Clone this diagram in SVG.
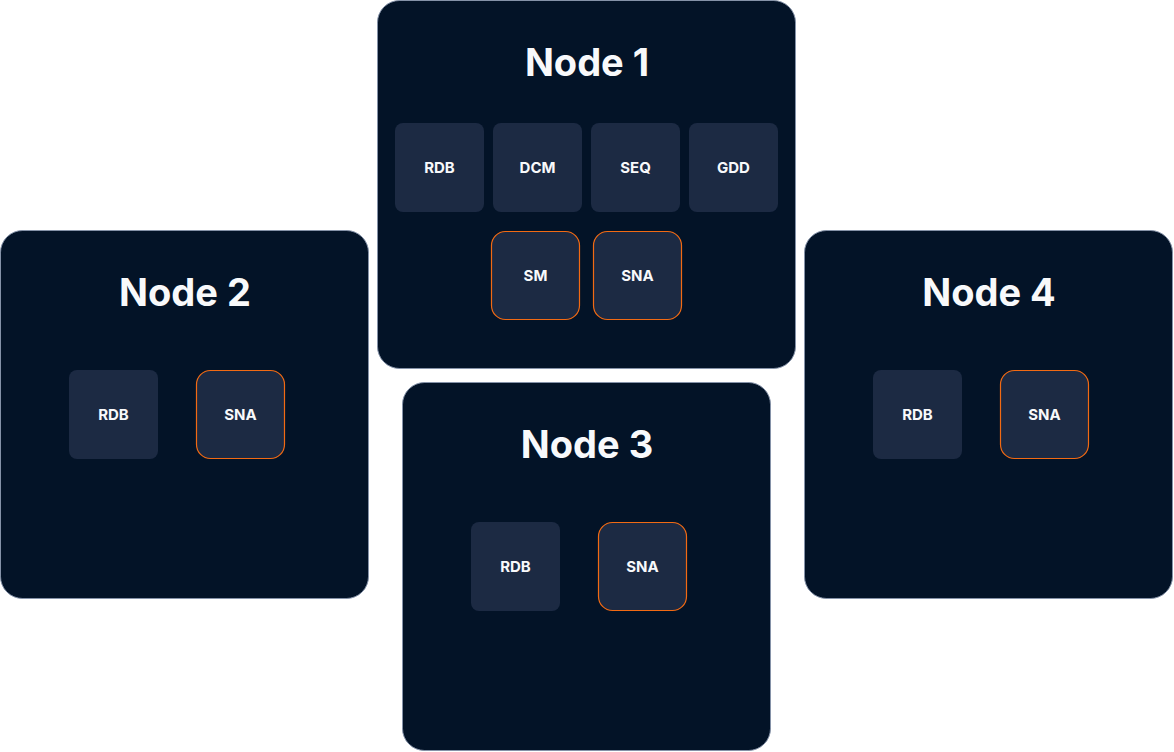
<svg xmlns="http://www.w3.org/2000/svg" width="1174" height="752" viewBox="0 0 1174 752">
  <style>
    .panel { fill: #031327; stroke: #8592a8; stroke-width: 1; }
    .box { fill: #1c2a43; }
    .svc { fill: #1c2a43; stroke: #f26a13; stroke-width: 1.2; }
    .title { font-family: Inter, "Liberation Sans", sans-serif; font-weight: 700; font-size: 38px; fill: #f8f9fb; text-anchor: middle; }
    .lbl { font-family: Inter, "Liberation Sans", sans-serif; font-weight: 700; font-size: 15px; fill: #f8f9fb; text-anchor: middle; }
  </style>
  <rect width="1174" height="752" fill="#ffffff"/>

  <!-- Node 1 -->
  <g id="node1">
    <rect class="panel" x="377.5" y="0.5" width="418" height="368" rx="22"/>
    <text class="title" x="587" y="76">Node 1</text>
    <rect class="box" x="395" y="123" width="89" height="89" rx="8"/>
    <text class="lbl" x="439.5" y="173">RDB</text>
    <rect class="box" x="493" y="123" width="89" height="89" rx="8"/>
    <text class="lbl" x="537.5" y="173">DCM</text>
    <rect class="box" x="591" y="123" width="89" height="89" rx="8"/>
    <text class="lbl" x="635.5" y="173">SEQ</text>
    <rect class="box" x="689" y="123" width="89" height="89" rx="8"/>
    <text class="lbl" x="733.5" y="173">GDD</text>
    <rect class="svc" x="491.5" y="231.5" width="88" height="88" rx="14"/>
    <text class="lbl" x="535.5" y="281">SM</text>
    <rect class="svc" x="593.5" y="231.5" width="88" height="88" rx="14"/>
    <text class="lbl" x="637.5" y="281">SNA</text>
  </g>

  <!-- Node 2 -->
  <g id="node2">
    <rect class="panel" x="0.5" y="230.5" width="368" height="368" rx="22"/>
    <text class="title" x="185" y="306">Node 2</text>
    <rect class="box" x="69" y="370" width="89" height="89" rx="8"/>
    <text class="lbl" x="113.5" y="420">RDB</text>
    <rect class="svc" x="196.5" y="370.5" width="88" height="88" rx="14"/>
    <text class="lbl" x="240.5" y="420">SNA</text>
  </g>

  <!-- Node 3 -->
  <g id="node3">
    <rect class="panel" x="402.5" y="382.5" width="368" height="368" rx="22"/>
    <text class="title" x="587" y="458">Node 3</text>
    <rect class="box" x="471" y="522" width="89" height="89" rx="8"/>
    <text class="lbl" x="515.5" y="572">RDB</text>
    <rect class="svc" x="598.5" y="522.5" width="88" height="88" rx="14"/>
    <text class="lbl" x="642.5" y="572">SNA</text>
  </g>

  <!-- Node 4 -->
  <g id="node4">
    <rect class="panel" x="804.5" y="230.5" width="368" height="368" rx="22"/>
    <text class="title" x="989" y="306">Node 4</text>
    <rect class="box" x="873" y="370" width="89" height="89" rx="8"/>
    <text class="lbl" x="917.5" y="420">RDB</text>
    <rect class="svc" x="1000.5" y="370.5" width="88" height="88" rx="14"/>
    <text class="lbl" x="1044.5" y="420">SNA</text>
  </g>

  <!-- no connectors between nodes -->
  <g id="connectors"/>
</svg>
